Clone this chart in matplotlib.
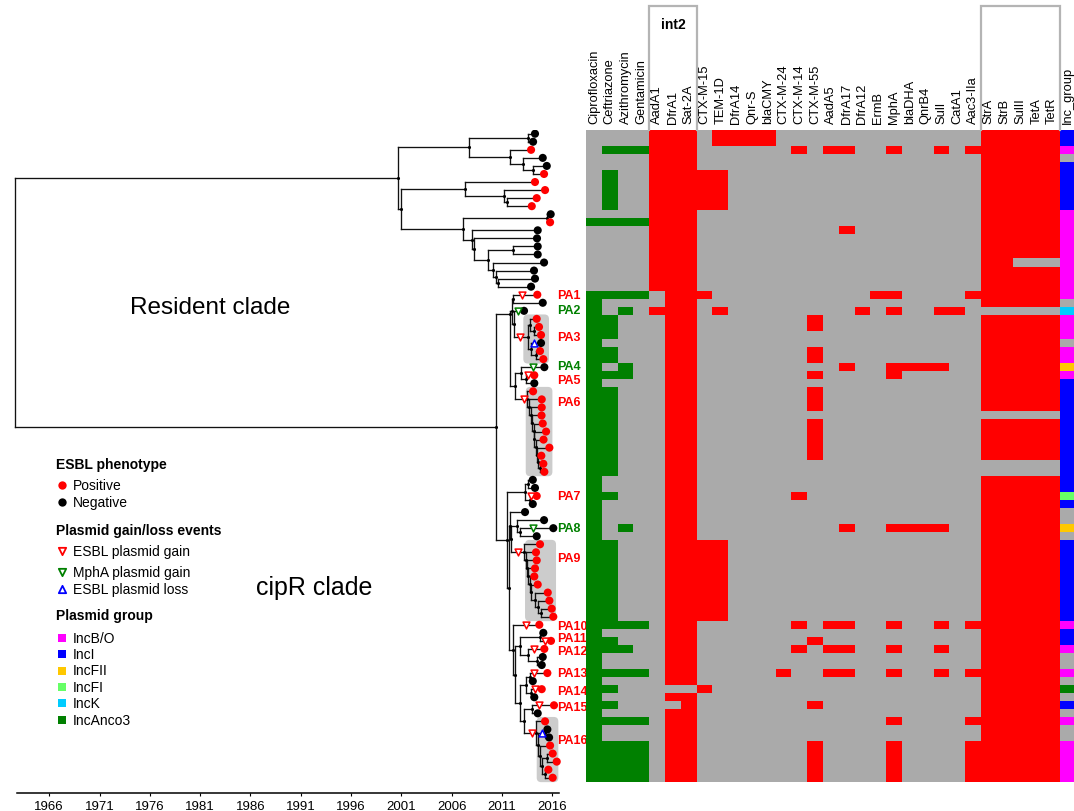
import matplotlib
matplotlib.use('Agg')
from matplotlib import pyplot as pl
from matplotlib.patches import FancyBboxPatch
from matplotlib.colors import ListedColormap
from matplotlib.collections import LineCollection
import matplotlib.transforms as mtransforms
import numpy as np

pl.rcParams['font.family'] = ['Liberation Sans', 'DejaVu Sans']

W, H = 1074, 812

antibiotics = ['Ciprofloxacin', 'Ceftriazone', 'Azithromycin', 'Gentamicin']
genes = ['AadA1', 'DfrA1', 'Sat-2A', 'CTX-M-15', 'TEM-1D', 'DfrA14', 'Qnr-S',
         'blaCMY', 'CTX-M-24', 'CTX-M-14', 'CTX-M-55', 'AadA5', 'DfrA17',
         'DfrA12', 'ErmB', 'MphA', 'blaDHA', 'QnrB4', 'SulI', 'CatA1',
         'Aac3-IIa', 'StrA', 'StrB', 'SulII', 'TetA', 'TetR']

# resistance phenotype, one string per isolate in tree order
phenotype = (['0000', '0000', '0111', '0000', '0000'] + ['0100'] * 5 +
             ['0000', '1111'] + ['0000'] * 8 +
             ['1111', '1000', '1010', '1100', '1100', '1100', '1000', '1100',
              '1100', '1010', '1110', '1000'] + ['1100'] * 11 +
             ['1000', '1000', '1100', '1000', '1000', '1000', '1010', '1000'] +
             ['1100'] * 10 +
             ['1111', '1000', '1100', '1110', '1000', '1000', '1111', '1000',
              '1100', '1000', '1100', '1000', '1111', '1000', '1000'] +
             ['1111'] * 5)

# gene presence (int2 | bla/dfr | ... | str/sul/tet)
base_r = '111 00000 00000 00000 000 11111'
base_c = '011 00000 00000 00000 000 11111'
c55 = '011 00000 00100 00000 000 11111'
genotype = ([
    '111 01111 00000 00000 000 11111',
    '111 01111 00000 00000 000 11111',
    '111 00000 01011 00100 101 11111',
    base_r, base_r] +
    ['111 11000 00000 00000 000 11111'] * 5 +
    [base_r, base_r, '111 00000 00001 00000 000 11111', base_r, base_r, base_r,
     '111 00000 00000 00000 000 11000', base_r, base_r, base_r] +
    ['011 10000 00000 01100 001 11111', base_c,
     '111 01000 00000 10100 110 00000', c55, c55, base_c, base_c, c55, c55,
     '011 00000 00001 00111 100 11111',
     '011 00000 00100 00100 000 11111', base_c, c55, c55, c55,
     '011 00000 00000 00000 000 00000', c55, c55, c55, c55, c55,
     '011 00000 00000 00000 000 00000', '011 00000 00000 00000 000 00000'] +
    [base_c, base_c, '011 00000 01000 00000 000 11111', base_c, base_c, base_c,
     '011 00000 00001 00111 100 11111', base_c] +
    ['011 11000 00000 00000 000 11111'] * 10 +
    ['011 00000 01011 00100 101 11111', base_c, c55,
     '011 00000 01011 00100 100 11111', base_c, base_c,
     '011 00000 10011 00100 101 11111', base_c,
     '000 10000 00000 00000 000 11111', base_c,
     '001 00000 00100 00000 000 11111', base_c,
     '011 00000 00000 00100 001 11111', base_c, base_c] +
    ['011 00000 00100 00100 001 11111'] * 5)

# plasmid group: B IncB/O, I IncI, F IncFII, f IncFI, K IncK, A IncAnco3, - none
inc_group = ('IIB-IIIIII' + 'B' * 11 + '-KBBB-BBFB' + 'I' * 14 + 'fI--F-' +
             'I' * 10 + 'BIIB--B-A-I-B--BBBBB')

inc_names = ['IncB/O', 'IncI', 'IncFII', 'IncFI', 'IncK', 'IncAnco3']
inc_codes = 'BIFfKA'
inc_colors = ['#FF00FF', '#0000FF', '#FFC800', '#66FF66', '#00CCFF', '#008000']

# ESBL phenotype of each tip: P positive, N negative
esbl = ('NNPNNPPPPPNPNNNNNNNN' + 'PNNPPPNPPNPN' + 'P' * 11 +
        'NNPNNNNN' + 'P' * 10 + 'PNPPNNPNPNPNPNN' + 'PPPPP')

# sampling date of each tip
tip_year = [
    2014.29, 2014.10, 2013.90, 2015.06, 2015.46, 2015.19, 2014.29, 2015.29, 2014.46, 2013.97,
    2015.85, 2015.79, 2014.56, 2014.49, 2014.56, 2014.56, 2015.19, 2014.19, 2014.29, 2013.90,
    2014.52, 2015.06, 2013.20, 2014.46, 2014.69, 2014.89, 2014.89, 2014.79, 2015.12, 2015.22,
    2014.22, 2014.22, 2014.10, 2014.96, 2014.96, 2014.94, 2015.06, 2015.39, 2015.14, 2015.72,
    2014.92, 2015.12, 2015.22, 2014.07, 2014.29, 2014.46, 2014.07, 2013.30, 2015.19, 2016.11,
    2014.46, 2014.79, 2014.39, 2014.46, 2014.29, 2014.22, 2014.56, 2015.56, 2015.72, 2015.95,
    2016.11, 2014.72, 2015.12, 2015.88, 2015.22, 2015.06, 2014.96, 2015.52, 2014.07, 2014.96,
    2014.22, 2016.18, 2014.56, 2015.29, 2015.52, 2015.69, 2015.79, 2016.05, 2016.45, 2015.62,
    2016.05]

# internal nodes: name -> (date, children[, fixed row position])
tree = {
    'root': (1962.60, ['A', 'Z']),
    'A': (2000.70, ['B', 'G']),
    'B': (2007.76, ['C', 'D']),
    'C': (2013.63, [1, 2]),
    'D': (2011.80, [3, 'E']),
    'E': (2013.13, [4, 'F']),
    'F': (2014.12, [5, 6]),
    'G': (2000.97, ['H', 'I']),
    'H': (2007.33, [7, 'J']),
    'J': (2011.21, [8, 'K']),
    'K': (2011.48, [9, 10]),
    'I': (2007.16, ['L', 'M']),
    'L': (2015.45, [11, 12]),
    'M': (2008.06, [13, 'N']),
    'N': (2008.26, [14, 'O']),
    'O': (2009.65, ['P', 'Q']),
    'P': (2012.14, [15, 16]),
    'Q': (2010.15, [17, 'R']),
    'R': (2010.42, [18, 'S']),
    'S': (2010.61, [19, 20]),
    'Z': (2010.39, ['Z1', 'Z2']),
    'Z1': (2011.85, ['Z1a', 'Z1b'], 23.4),
    'Z1a': (2012.00, ['n21', 'n23']),
    'n21': (2012.13, [21, 22]),
    'n23': (2012.25, [23, 'PA3']),
    'PA3': (2013.60, ['n24', 'n27']),
    'n24': (2013.80, [24, 'n25']),
    'n25': (2014.19, [25, 26]),
    'n27': (2013.85, [27, 'n28']),
    'n28': (2014.39, [28, 29]),
    'Z1b': (2012.30, ['n30', 'PA6']),
    'n30': (2012.90, [30, 'n31']),
    'n31': (2013.40, [31, 32]),
    'PA6': (2013.50, [33, 'p34']),
    'p34': (2013.70, [34, 'p35']),
    'p35': (2013.90, [35, 'p36']),
    'p36': (2014.00, [36, 'p37']),
    'p37': (2014.15, [37, 'p38']),
    'p38': (2014.24, [38, 'p39']),
    'p39': (2014.39, [39, 'p40']),
    'p40': (2014.49, [40, 'p41']),
    'p41': (2014.59, [41, 'p42']),
    'p42': (2014.74, [42, 43]),
    'Z2': (2011.46, ['PA7', 'Z4']),
    'PA7': (2013.30, ['n44', 'n46']),
    'n44': (2013.60, [44, 45]),
    'n46': (2013.75, [46, 47]),
    'Z4': (2011.66, ['Z5', 'Z6']),
    'Z5': (2011.80, [48, 'Z5a']),
    'Z5a': (2011.95, ['Z5b', 'PA9']),
    'Z5b': (2012.53, [49, 'n50']),
    'n50': (2012.80, [50, 51]),
    'PA9': (2013.20, [52, 'q53']),
    'q53': (2013.40, [53, 'q54']),
    'q54': (2013.50, [54, 'q55']),
    'q55': (2013.60, [55, 'q56']),
    'q56': (2013.75, [56, 'q57']),
    'q57': (2013.90, [57, 'q58']),
    'q58': (2014.29, [58, 'q59']),
    'q59': (2014.59, [59, 'q60']),
    'q60': (2014.84, [60, 61]),
    'Z6': (2012.07, [62, 'Z7']),
    'Z7': (2012.30, ['Z8', 'Z9']),
    'Z8': (2012.80, ['n63', 'n65']),
    'n63': (2014.79, [63, 64]),
    'n65': (2013.57, [65, 'n66']),
    'n66': (2014.49, [66, 67]),
    'Z9': (2012.80, ['Z10', 'Z11']),
    'Z10': (2013.40, ['n68', 'n70']),
    'n68': (2013.80, [68, 69]),
    'n70': (2013.90, [70, 71]),
    'Z11': (2013.20, ['n72', 'PA16']),
    'n72': (2014.00, [72, 73]),
    'PA16': (2014.39, [74, 'r75']),
    'r75': (2014.59, ['n75', 'r77']),
    'n75': (2015.24, [75, 76]),
    'r77': (2014.79, [77, 'r78']),
    'r78': (2014.99, ['n78', 'n80']),
    'n78': (2015.49, [78, 79]),
    'n80': (2015.29, [80, 81]),
}

# plasmid events placed on the branch leading to a tip or node
events = [
    ('gain', 21, 2012.97), ('gain', 'PA3', 2012.80), ('gain', 31, 2013.63),
    ('gain', 'PA6', 2013.23), ('gain', 46, 2013.87), ('gain', 'PA9', 2012.63),
    ('gain', 62, 2013.37), ('gain', 64, 2015.29), ('gain', 65, 2014.22),
    ('gain', 68, 2014.19), ('gain', 70, 2014.29), ('gain', 72, 2014.72),
    ('gain', 'PA16', 2013.97),
    ('mpha', 23, 2012.63), ('mpha', 30, 2014.09), ('mpha', 50, 2014.12),
    ('loss', 27, 2014.22), ('loss', 'n75', 2015.02),
]

# shaded clades: (start date, end date, first row, last row)
clade_boxes = [(2013.13, 2015.68, 24, 29), (2013.37, 2016.02, 33, 43),
               (2013.30, 2016.38, 52, 61), (2014.46, 2016.61, 74, 81)]

pa_labels = [('PA1', 21.0, 'r'), ('PA2', 22.9, 'g'), ('PA3', 26.2, 'r'),
             ('PA4', 29.9, 'g'), ('PA5', 31.6, 'r'), ('PA6', 34.3, 'r'),
             ('PA7', 46.0, 'r'), ('PA8', 50.0, 'g'), ('PA9', 53.7, 'r'),
             ('PA10', 62.2, 'r'), ('PA11', 63.6, 'r'), ('PA12', 65.3, 'r'),
             ('PA13', 68.0, 'r'), ('PA14', 70.2, 'r'), ('PA15', 72.2, 'r'),
             ('PA16', 76.3, 'r')]

RED = '#FF0000'
GREEN = '#008000'
BLUE = '#0000FF'
GREY = '#AAAAAA'
event_style = {'gain': ('v', RED), 'mpha': ('v', GREEN), 'loss': ('^', BLUE)}

n = len(tip_year)
rows = np.arange(1, n + 1)

fig = pl.figure(figsize=(W / 100, H / 100), dpi=100)

# tree panel, pixel geometry: 10.06 px per year, 8.05 px per row
px_year = 10.06
row_px = 8.05
top_px, axis_px = 130.7, 794.4
x0 = 1966 - 49.2 / px_year
ax = fig.add_axes([0, 1 - axis_px / H, 586 / W, (axis_px - top_px) / H])
ax.set_xlim(x0, x0 + 586 / px_year)
ax.set_ylim(0.5 + (axis_px - top_px) / row_px, 0.5)


def ypos(key):
    if isinstance(key, (int, np.integer)):
        return float(key)
    spec = tree[key]
    if len(spec) > 2:
        return spec[2]
    kids = spec[1]
    return (ypos(kids[0]) + ypos(kids[-1])) / 2


def xpos(key):
    if isinstance(key, (int, np.integer)):
        return tip_year[key - 1]
    return tree[key][0]


segs = []
for name, spec in tree.items():
    year, kids = spec[0], spec[1]
    ys = [ypos(k) for k in kids] + [ypos(name)]
    segs.append([(year, min(ys)), (year, max(ys))])
    for k in kids:
        segs.append([(year, ypos(k)), (xpos(k), ypos(k))])
ax.add_collection(LineCollection(segs, colors='#111111', linewidths=0.95,
                                 zorder=2, capstyle='projecting'))

# internal node markers
ax.scatter([tree[k][0] for k in tree if k != 'root'],
           [ypos(k) for k in tree if k != 'root'],
           s=5, c='k', zorder=3, linewidths=0)

for x_a, x_b, r0, r1 in clade_boxes:
    ax.add_patch(FancyBboxPatch((x_a, r0 - 0.55), x_b - x_a, r1 - r0 + 1.1,
                                boxstyle='round,pad=0,rounding_size=0.45',
                                mutation_aspect=px_year / row_px,
                                facecolor='#CCCCCC', edgecolor='none',
                                zorder=0))

tip_colors = [RED if s == 'P' else 'k' for s in esbl]
ax.scatter(tip_year, rows, s=34, c=tip_colors, zorder=4, linewidths=0)

for kind, target, year in events:
    marker, col = event_style[kind]
    ax.scatter([year], [ypos(target)], marker=marker, s=24, facecolors='white',
               edgecolors=col, linewidths=1.1, zorder=5)

label_x = 1966 + (557 - 49.2) / px_year
for text, r, c in pa_labels:
    ax.text(label_x, r, text, color=RED if c == 'r' else GREEN,
            fontsize=9, fontweight='bold', va='center', ha='left',
            clip_on=False)

for side in ['left', 'top', 'right']:
    ax.spines[side].set_visible(False)
ax.spines['bottom'].set_linewidth(1.1)
ax.spines['bottom'].set_bounds(1962.76, 2016.68)
ax.set_yticks([])
ax.set_xticks(np.arange(1966, 2017, 5))
ax.tick_params(axis='x', length=2.5, width=0.8, pad=2, labelsize=9.5)
ax.patch.set_alpha(0)

# heatmap panel
heat_top, heat_bot = 130.7, 782.7
col_px = 15.8
axh = fig.add_axes([586 / W, 1 - heat_bot / H, (W - 586) / W,
                    (heat_bot - heat_top) / H])
colors = [GREY, RED, GREEN] + inc_colors
cmap = ListedColormap(colors)
mat = np.zeros((n, len(antibiotics) + len(genes) + 1))
for i in range(n):
    for j, v in enumerate(phenotype[i]):
        mat[i, j] = 2 if v == '1' else 0
    for j, v in enumerate(genotype[i].replace(' ', '')):
        mat[i, len(antibiotics) + j] = 1 if v == '1' else 0
    g = inc_group[i]
    mat[i, -1] = 0 if g == '-' else 3 + inc_codes.index(g)
ncol = mat.shape[1]
axh.pcolormesh(np.arange(ncol + 1), np.arange(n + 1) + 0.5, mat, cmap=cmap,
               vmin=-0.5, vmax=len(colors) - 0.5)
axh.set_xlim(0, (W - 586) / col_px)
axh.set_ylim(n + 0.5, 0.5)
axh.axis('off')

col_labels = antibiotics + genes + ['Inc_group']
for j, lab in enumerate(col_labels):
    axh.annotate(lab, xy=(j + 0.5, 1), xycoords=('data', 'axes fraction'),
                 xytext=(0, 5), textcoords='offset points', rotation=90,
                 ha='center', va='bottom', fontsize=9.3,
                 annotation_clip=False)

trans = mtransforms.blended_transform_factory(axh.transData, axh.transAxes)
box_top = 1 + (heat_top - 7) / (heat_bot - heat_top)
for c0, c1 in [(4, 7), (25, 30)]:
    axh.plot([c0, c0, c1, c1], [1, box_top, box_top, 1], transform=trans,
             color='#B4B4B4', lw=1.6, clip_on=False, solid_joinstyle='miter')
axh.text(5.5, 1 + (heat_top - 25) / (heat_bot - heat_top), 'int2',
         transform=trans, ha='center', va='center', fontsize=10,
         fontweight='bold')

# overlay in pixel units for legend and clade names
axo = fig.add_axes([0, 0, 1, 1])
axo.set_xlim(0, W)
axo.set_ylim(H, 0)
axo.axis('off')
axo.patch.set_alpha(0)

axo.text(210, 308, 'Resident clade', fontsize=17.5, ha='center', va='center')
axo.text(314, 588, 'cipR clade', fontsize=18, ha='center', va='center')

mx, tx = 61.7, 72.7
title_kw = dict(fontsize=10, fontweight='bold', ha='left', va='center')
item_kw = dict(fontsize=10, ha='left', va='center')

axo.text(56, 465, 'ESBL phenotype', **title_kw)
for lab, yy, col in [('Positive', 486, RED), ('Negative', 503.3, 'k')]:
    axo.scatter([mx], [yy], s=36, c=col, linewidths=0)
    axo.text(tx, yy, lab, **item_kw)

axo.text(56, 531, 'Plasmid gain/loss events', **title_kw)
for lab, yy, kind in [('ESBL plasmid gain', 551.7, 'gain'),
                      ('MphA plasmid gain', 572.7, 'mpha'),
                      ('ESBL plasmid loss', 590, 'loss')]:
    marker, col = event_style[kind]
    axo.scatter([mx], [yy], marker=marker, s=28, facecolors='white',
                edgecolors=col, linewidths=1.3)
    axo.text(tx, yy, lab, **item_kw)

axo.text(56, 615.7, 'Plasmid group', **title_kw)
for k, (lab, col) in enumerate(zip(inc_names, inc_colors)):
    yy = 638.7 + k * 16.4
    axo.scatter([mx], [yy], marker='s', s=32, c=col, linewidths=0)
    axo.text(tx, yy, lab, **item_kw)

fig.savefig('out.png', dpi=100)
